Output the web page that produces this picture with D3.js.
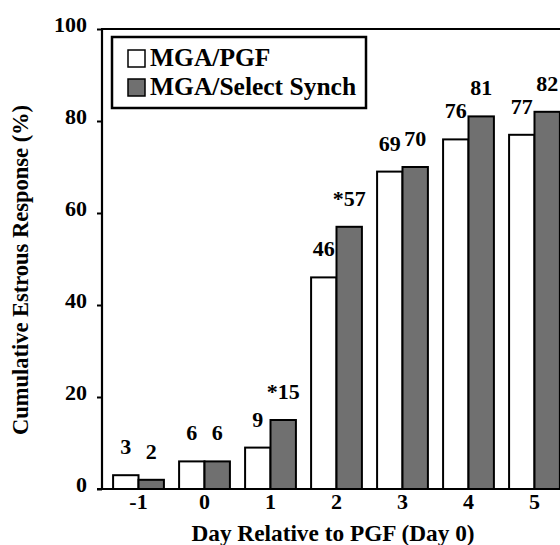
<!DOCTYPE html>
<html>
<head>
<meta charset="utf-8">
<script src="https://cdn.jsdelivr.net/npm/d3@7"></script>
<style>
  body { margin: 0; background: #fff; }
  svg { display: block; }
  svg text { font-family: "Liberation Serif", "Times New Roman", serif; font-weight: bold; fill: #000; }
</style>
</head>
<body>
<div class="chart"></div>
<script>
// --- Data ---
const days = ["-1", "0", "1", "2", "3", "4", "5"];
const seriesNames = ["MGA/PGF", "MGA/Select Synch"];
const mgaPgf = [3, 6, 9, 46, 69, 76, 77];
const mgaSelect = [2, 6, 15, 57, 70, 81, 82];
const pgfLabels = ["3", "6", "9", "46", "69", "76", "77"];
const selectLabels = ["2", "6", "*15", "*57", "70", "81", "82"];
const yTicks = [0, 20, 40, 60, 80, 100];

const W = 560, H = 545;
const colors = ["#ffffff", "#707070"];

const svg = d3.select(".chart")
    .append("svg")
    .attr("width", W)
    .attr("height", H)
    .attr("viewBox", `0 0 ${W} ${H}`);

// scales
const y = d3.scaleLinear()
    .domain([0, 100])
    .range([489, 29]);

const x = d3.scaleBand()
    .domain(days)
    .range([106.5, 566.5])
    .paddingInner(0.23)
    .paddingOuter(0.1);

const xSub = d3.scaleBand()
    .domain(seriesNames)
    .range([0, x.bandwidth()]);

const rows = days.map((d, i) => ({
    day: d,
    values: [
        { name: seriesNames[0], value: mgaPgf[i], label: pgfLabels[i] },
        { name: seriesNames[1], value: mgaSelect[i], label: selectLabels[i] }
    ]
}));

// bars
const groups = svg.selectAll("g.day")
    .data(rows)
    .enter()
    .append("g")
    .attr("class", "day")
    .attr("transform", d => `translate(${x(d.day)},0)`);

groups.selectAll("rect")
    .data(d => d.values)
    .enter()
    .append("rect")
    .attr("x", d => xSub(d.name))
    .attr("y", d => y(d.value))
    .attr("width", xSub.bandwidth())
    .attr("height", d => y(0) - y(d.value))
    .attr("fill", (d, i) => colors[i])
    .attr("stroke", "#000")
    .attr("stroke-width", 2);

// value labels
groups.selectAll("text")
    .data(d => d.values)
    .enter()
    .append("text")
    .attr("x", d => xSub(d.name) + xSub.bandwidth() / 2)
    .attr("y", d => y(d.value) - 21)
    .attr("text-anchor", "middle")
    .style("font-size", "22px")
    .text(d => d.label);

// y axis
const yAxis = svg.append("g")
    .attr("transform", `translate(102,0)`)
    .call(d3.axisLeft(y).tickValues(yTicks).tickSize(5).tickPadding(10));
yAxis.select(".domain").remove();
yAxis.selectAll("line").attr("stroke", "#000").attr("stroke-width", 2);
yAxis.selectAll("text")
    .attr("dy", "2px")
    .style("font-size", "22px");

svg.append("line")
    .attr("x1", 102).attr("x2", 102)
    .attr("y1", y(100)).attr("y2", y(0))
    .attr("stroke", "#000").attr("stroke-width", 2.2);

// top frame line
svg.append("line")
    .attr("x1", 101).attr("x2", W)
    .attr("y1", y(100)).attr("y2", y(100))
    .attr("stroke", "#000").attr("stroke-width", 2);

// x axis
const xAxis = svg.append("g")
    .attr("transform", `translate(0,${y(0)})`)
    .call(d3.axisBottom(x).tickSize(0));
xAxis.select(".domain").remove();
xAxis.selectAll("text")
    .attr("y", 20)
    .attr("dy", 0)
    .style("font-size", "22px");

svg.append("line")
    .attr("x1", 97).attr("x2", W)
    .attr("y1", y(0)).attr("y2", y(0))
    .attr("stroke", "#000").attr("stroke-width", 2.2);

// axis titles
svg.append("text")
    .attr("x", 333)
    .attr("y", 541)
    .attr("text-anchor", "middle")
    .style("font-size", "23.3px")
    .text("Day Relative to PGF (Day 0)");

svg.append("text")
    .attr("transform", "translate(28,270) rotate(-90)")
    .attr("text-anchor", "middle")
    .style("font-size", "22.5px")
    .text("Cumulative Estrous Response (%)");

// legend
const legend = svg.append("g");
legend.append("rect")
    .attr("x", 112).attr("y", 37)
    .attr("width", 254).attr("height", 71)
    .attr("fill", "#fff")
    .attr("stroke", "#000")
    .attr("stroke-width", 2.5);

const items = legend.selectAll("g.item")
    .data(seriesNames)
    .enter()
    .append("g")
    .attr("class", "item")
    .attr("transform", (d, i) => `translate(128,${50 + i * 29})`);

items.append("rect")
    .attr("width", 17).attr("height", 17)
    .attr("fill", (d, i) => colors[i])
    .attr("stroke", "#000")
    .attr("stroke-width", 1.5);

items.append("text")
    .attr("x", 22)
    .attr("y", 16)
    .style("font-size", "25.5px")
    .text(d => d);
</script>
</body>
</html>
